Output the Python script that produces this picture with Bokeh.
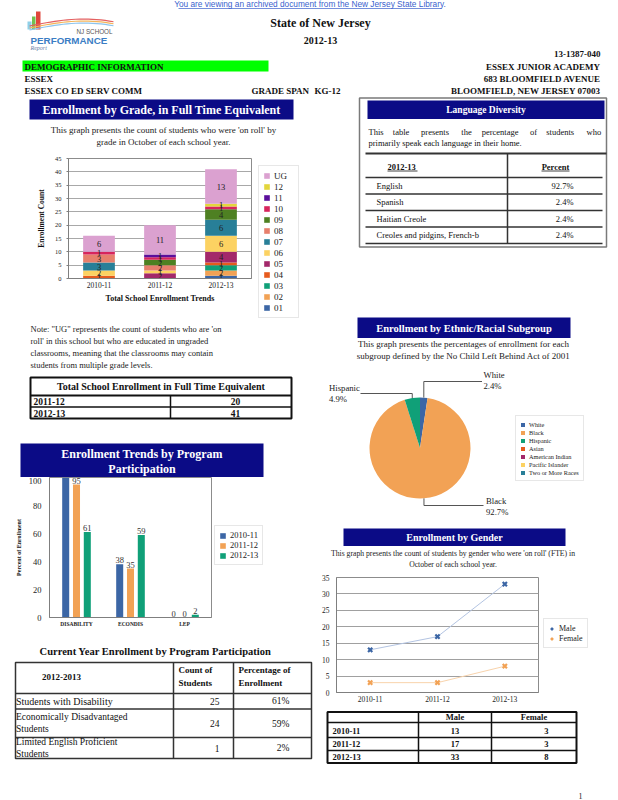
import math
from bokeh.plotting import figure
from bokeh.models import (Range1d, FactorRange, Legend, LegendItem, SingleIntervalTicker,
                          ColumnDataSource)
from bokeh.layouts import column, row
from bokeh.transform import dodge
from bokeh.embed import file_html
from bokeh.resources import INLINE
from bokeh.core.properties import value

SERIF = "Liberation Serif"
SANS = "Liberation Sans"
NAVY = "#0b0b86"

# ---------------- data ----------------
years = ["2010-11", "2011-12", "2012-13"]
grades = ["01", "02", "03", "04", "05", "06", "07", "08", "09", "10", "11", "12", "UG"]
g01 = [0, 0, 1]
g02 = [0, 0, 2]
g03 = [0, 0, 2]
g04 = [1, 0, 1]
g05 = [0, 2, 4]
g06 = [2, 1, 6]
g07 = [3, 0, 6]
g08 = [3, 2, 0]
g09 = [0, 2, 4]
g10 = [1, 1, 1]
g11 = [0, 1, 0]
g12 = [0, 0, 1]
gUG = [6, 11, 13]
grade_values = [g01, g02, g03, g04, g05, g06, g07, g08, g09, g10, g11, g12, gUG]
grade_colors = ["#3c66a5", "#f2a255", "#10a078", "#e65b1e", "#a3286a", "#fcd262", "#287f98",
                "#e77f6c", "#4e8022", "#d7255d", "#5b0f9c", "#e3d63c", "#dba1d0"]

total_years = ["2011-12", "2012-13"]
total_fte = [20, 41]

languages = ["English", "Spanish", "Haitian Creole", "Creoles and pidgins, French-b"]
language_pct = [92.7, 2.4, 2.4, 2.4]

ethnic_groups = ["White", "Black", "Hispanic", "Asian", "American Indian", "Pacific Islander",
                 "Two or More Races"]
ethnic_pct = [2.4, 92.7, 4.9, 0, 0, 0, 0]
ethnic_colors = ["#3c66a5", "#f2a255", "#10a078", "#e65b1e", "#a3286a", "#fcd262", "#287f98"]

programs = ["DISABILITY", "ECONDIS", "LEP"]
prog_2010 = [100, 38, 0]
prog_2011 = [95, 35, 0]
prog_2012 = [61, 59, 2]
prog_years = ["2010-11", "2011-12", "2012-13"]
prog_colors = ["#3c66a5", "#f2a255", "#10a078"]

current_labels = [["Students with Disability"],
                  ["Economically Disadvantaged", "Students"],
                  ["Limited English Proficient", "Students"]]
current_counts = [25, 24, 1]
current_pct = [61, 59, 2]

genders = ["Male", "Female"]
male = [13, 17, 33]
female = [3, 3, 8]
gender_colors = ["#3c66a5", "#f2a255"]
gender_line_colors = ["#b3c4e2", "#f8d3ac"]


# ---------------- helpers ----------------
class Canvas:
    def __init__(self, x0, y0, w, h):
        self.x0, self.y0, self.w, self.h = x0, y0, w, h
        p = figure(width=w, height=h, x_range=Range1d(0, w), y_range=Range1d(0, h),
                   toolbar_location=None, output_backend="svg",
                   x_axis_location=None, y_axis_location=None, min_border=0)
        p.grid.visible = False
        p.outline_line_color = None
        self.p = p

    def X(self, x):
        return x - self.x0

    def Y(self, y):
        return self.h - (y - self.y0)

    def text(self, x, y, s, size, color="#111111", bold=False, align="left", font=SERIF,
             italic=False):
        style = "normal"
        if bold and italic:
            style = "bold italic"
        elif bold:
            style = "bold"
        elif italic:
            style = "italic"
        self.p.text(x=[self.X(x)], y=[self.Y(y)], text=[s], text_font=value(font),
                    text_font_size=f"{size}px", text_font_style=style, text_color=color,
                    text_align=align, text_baseline="middle")

    def box(self, x0, y0, x1, y1, fill=None, line=None, lw=1):
        self.p.quad(left=[self.X(x0)], right=[self.X(x1)], top=[self.Y(y0)],
                    bottom=[self.Y(y1)], fill_color=fill, line_color=line, line_width=lw)

    def seg(self, x0, y0, x1, y1, color="#222222", lw=1):
        self.p.segment(x0=[self.X(x0)], y0=[self.Y(y0)], x1=[self.X(x1)], y1=[self.Y(y1)],
                       line_color=color, line_width=lw)

    def poly(self, pts, color, lw=1):
        self.p.line(x=[self.X(a) for a, b in pts], y=[self.Y(b) for a, b in pts],
                    line_color=color, line_width=lw)

    def legend_at(self, items, left, bottom):
        """place a legend with its bottom-left corner at page coords (left, bottom)"""
        lg = Legend(items=items, location=(self.X(left), self.Y(bottom)))
        self.p.add_layout(lg)
        return lg


def chart(w, h, xr, yr, l, r, t, b):
    p = figure(width=w, height=h, x_range=xr, y_range=yr, toolbar_location=None,
               output_backend="svg", min_border_left=l, min_border_right=r,
               min_border_top=t, min_border_bottom=b)
    return p


def style_axes(p, tick_size, label_size):
    for ax in p.axis:
        ax.major_label_text_font = SERIF
        ax.major_label_text_font_size = f"{tick_size}px"
        ax.major_label_text_color = "#222222"
        ax.axis_label_text_font = SERIF
        ax.axis_label_text_font_style = "bold"
        ax.axis_label_text_font_size = f"{label_size}px"
        ax.axis_label_text_color = "#111111"
        ax.axis_line_color = "#7f7f7f"
        ax.major_tick_line_color = "#7f7f7f"
        ax.minor_tick_line_color = None
        ax.major_tick_in = 0


def style_legend(lg, size, glyph, item_h, padding):
    lg.label_text_font = SERIF
    lg.label_text_font_size = f"{size}px"
    lg.label_text_color = "#222222"
    lg.glyph_width = glyph
    lg.glyph_height = glyph
    lg.label_height = item_h
    lg.spacing = 0
    lg.padding = padding
    lg.margin = 0
    lg.label_standoff = 4
    lg.border_line_color = "#cfcfcf"
    lg.background_fill_color = "white"
    lg.background_fill_alpha = 1


def justify(c, words, x0, x1, y, size):
    cw = 0.47 * size
    widths = [len(w) * cw for w in words]
    gap = (x1 - x0 - sum(widths)) / (len(words) - 1)
    x = x0
    for w, wd in zip(words, widths):
        c.text(x, y, w, size)
        x += wd + gap


def box1(fig):
    return column(fig)


# ---------------- header ----------------
H = Canvas(0, 0, 618, 96)
H.text(309.5, 3.5, "You are viewing an archived document from the New Jersey State Library.",
       8.3, color="#3a5fcd", align="center", font=SANS)
H.seg(178, 8, 441, 8, color="#3a5fcd", lw=0.7)
# logo
H.box(27, 21, 31, 29, fill="#8fd0e8")
H.box(31.5, 16, 35, 29, fill="#72c050")
H.box(35.5, 11, 40, 29, fill="#e0463c")
for k, col in enumerate(["#8cc4ee", "#f3b45a", "#e46060"]):
    pts = []
    for i in range(21):
        t = i / 20
        pts.append((29 + 84 * t, 29.5 - 2 * k - 9 * math.sin(t * 2.2) + 3 * t))
    H.poly(pts, col, lw=1.2)
H.text(112, 31, "NJ SCHOOL", 6.3, color="#555555", align="right", font=SANS)
H.text(30, 40, "PERFORMANCE", 9.8, color="#3b7dc4", bold=True, font=SANS)
H.text(30, 47.5, "Report", 6, color="#6b7fa8", italic=True)
H.text(320, 22, "State of New Jersey", 12, bold=True, align="center")
H.text(320, 40, "2012-13", 10, bold=True, align="center")
H.text(600, 53, "13-1387-040", 9, bold=True, align="right")
H.box(22, 60, 268, 71, fill="#00ff00")
H.text(24, 66, "DEMOGRAPHIC INFORMATION", 9, bold=True)
H.text(600, 66, "ESSEX JUNIOR ACADEMY", 9, bold=True, align="right")
H.text(24, 78, "ESSEX", 9, bold=True)
H.text(600, 78, "683 BLOOMFIELD AVENUE", 9, bold=True, align="right")
H.text(24, 90, "ESSEX CO ED SERV COMM", 9, bold=True)
H.text(251, 90, "GRADE SPAN", 9, bold=True)
H.text(314, 90, "KG-12", 9, bold=True)
H.text(600, 90, "BLOOMFIELD, NEW JERSEY 07003", 9, bold=True, align="right")

LW, RW = 318, 300

# ---------------- left column ----------------
L1 = Canvas(0, 96, LW, 54)
L1.box(29, 99, 293, 119, fill=NAVY)
L1.text(161, 109.5, "Enrollment by Grade, in Full Time Equivalent", 12, color="white",
        bold=True, align="center")
L1.text(163, 129, "This graph presents the count of students who were 'on roll' by", 9,
        align="center", color="#222222")
L1.text(163, 141, "grade in October of each school year.", 9, align="center", color="#222222")

# stacked chart (frame x 68..251, y 158..278)
p2 = chart(252, 170, FactorRange(factors=years), Range1d(0, 45), 68, 1, 8, 42)
src2 = ColumnDataSource(dict(year=years, **{"g" + g: v for g, v in zip(grades, grade_values)}))
rs = p2.vbar_stack(["g" + g for g in grades], x="year", width=0.52, color=grade_colors,
                   line_color=None, source=src2)
lx, ly, lt = [], [], []
for j, yr in enumerate(years):
    cum = 0
    for v in grade_values:
        if v[j] > 0:
            lx.append(yr)
            ly.append(cum + v[j] / 2)
            lt.append(str(v[j]))
        cum += v[j]
p2.text(x=lx, y=ly, text=lt, text_font=value(SERIF), text_font_size="8.5px",
        text_align="center", text_baseline="middle", text_color="#222222")
p2.xgrid.visible = False
p2.ygrid.grid_line_color = "#a8a8a8"
p2.outline_line_color = "#8c8c8c"
p2.yaxis.ticker = SingleIntervalTicker(interval=5)
style_axes(p2, 6.5, 7.5)
p2.yaxis.major_tick_out = 2
p2.xaxis.major_tick_out = 0
p2.xaxis.major_label_text_font_size = "7.5px"
p2.yaxis.axis_label = "Enrollment Count"
p2.xaxis.axis_label = "Total School Enrollment Trends"
p2.xaxis.axis_label_text_font_size = "8px"
p2.yaxis.axis_label_standoff = 6
p2.xaxis.axis_label_standoff = 3
p2.yaxis.major_label_standoff = 3
p2.xaxis.major_label_standoff = 3

# legend swatches: one off-canvas swatch per series so the legend can draw its key
LG2 = Canvas(252, 150, 66, 170)
items2 = []
for g, col in zip(grades, grade_colors):
    r = LG2.p.quad(left=[-30], right=[-20], top=[-20], bottom=[-30], fill_color=col,
                   line_color=None)
    items2.append(LegendItem(label=g, renderers=[r]))
lg2 = LG2.legend_at(items2[::-1], 258, 318)
style_legend(lg2, 9, 7, 11, 4)

L3 = Canvas(0, 320, LW, 120)
note = ["Note: \"UG\" represents the count of students who are 'on",
        "roll' in this school but who are educated in ungraded",
        "classrooms, meaning that the classrooms may contain",
        "students from multiple grade levels."]
for i, s in enumerate(note):
    L3.text(30, 328 + 12.3 * i, s, 8.5, color="#222222")
L3.box(30, 377, 291, 418, line="#111111", lw=2)
L3.seg(30, 395, 291, 395, color="#111111", lw=2)
L3.seg(30, 406.5, 291, 406.5, color="#111111", lw=1.5)
L3.seg(170, 395, 170, 418, color="#111111", lw=1.5)
L3.text(160.5, 386, "Total School Enrollment in Full Time Equivalent", 10, bold=True,
        align="center")
for i, (yl, v) in enumerate(zip(total_years, total_fte)):
    yy = 401 + 11.5 * i
    L3.text(33, yy, yl, 9.5, bold=True)
    L3.text(235, yy, str(v), 9.5, bold=True, align="center")

L4a = Canvas(0, 440, LW, 37)
L4a.box(20, 443, 263, 477, fill=NAVY)
L4a.text(141.5, 453.5, "Enrollment Trends by Program", 12, color="white", bold=True,
         align="center")
L4a.text(141.5, 468, "Participation", 12, color="white", bold=True, align="center")

# program chart (frame x 49..211, y 477..617)
p4 = chart(212, 163, FactorRange(factors=programs), Range1d(0, 100), 49, 1, 0, 23)
src4 = ColumnDataSource(dict(program=programs, y0=prog_2010, y1=prog_2011, y2=prog_2012,
                             t0=[str(v) for v in prog_2010], t1=[str(v) for v in prog_2011],
                             t2=[str(v) for v in prog_2012]))
for k, off in enumerate([-0.2, 0.0, 0.2]):
    p4.vbar(x=dodge("program", off, range=p4.x_range), top=f"y{k}", width=0.13,
            color=prog_colors[k], line_color=None, source=src4)
    p4.text(x=dodge("program", off, range=p4.x_range), y=f"y{k}", text=f"t{k}", source=src4,
            text_font=value(SERIF), text_font_size="8.5px", text_align="center",
            text_baseline="bottom", y_offset=-1, text_color="#333333")
p4.grid.visible = False
p4.outline_line_color = "#8c8c8c"
p4.yaxis.ticker = SingleIntervalTicker(interval=20)
style_axes(p4, 8.5, 6)
p4.yaxis.major_tick_out = 0
p4.xaxis.major_tick_out = 0
p4.xaxis.major_label_text_font_size = "5.5px"
p4.xaxis.major_label_text_font_style = "bold"
p4.yaxis.axis_label = "Percent of Enrollment"
p4.yaxis.major_label_standoff = 4
p4.yaxis.axis_label_standoff = 4
p4.xaxis.major_label_standoff = 3

LG4 = Canvas(212, 477, 106, 163)
items4 = []
for y, col in zip(prog_years, prog_colors):
    r = LG4.p.quad(left=[-30], right=[-20], top=[-20], bottom=[-30], fill_color=col,
                   line_color=None)
    items4.append(LegendItem(label=y, renderers=[r]))
lg4 = LG4.legend_at(items4, 214, 565)
style_legend(lg4, 8.5, 7, 10, 4)

L5 = Canvas(0, 640, LW, 159)
L5.text(155, 651, "Current Year Enrollment by Program Participation", 10.5, bold=True,
        align="center")
TC = "#333333"
L5.box(15, 662, 311, 758, line=TC, lw=1.5)
for yy in [693, 708.5, 737]:
    L5.seg(15, yy, 311, yy, color=TC, lw=1.5)
L5.seg(173, 662, 173, 758, color=TC, lw=1.5)
L5.seg(233, 662, 233, 758, color=TC, lw=1.5)
L5.text(61, 676.5, "2012-2013", 9, bold=True, align="center")
L5.text(178, 669, "Count of", 9, bold=True)
L5.text(178, 682, "Students", 9, bold=True)
L5.text(238, 669, "Percentage of", 9, bold=True)
L5.text(238, 682, "Enrollment", 9, bold=True)
row_mid = [700.5, 723, 747.5]
row_first = [700.5, 716.5, 741.5]
for i, lines in enumerate(current_labels):
    for k, s in enumerate(lines):
        L5.text(15.5, row_first[i] + 12.3 * k, s, 10 if len(lines) == 1 else 9.5,
                color="#111111")
    L5.text(219, row_mid[i], str(current_counts[i]), 9.5, align="right")
    L5.text(289, row_mid[i], f"{current_pct[i]}%", 9.5, align="right")

# ---------------- right column ----------------
R1 = Canvas(LW, 96, RW, 216)
R1.box(359, 97.5, 606, 246.5, line="#7a7a7a", lw=1.5)
R1.box(367, 100, 604, 118.5, fill=NAVY)
R1.text(485.5, 109.5, "Language Diversity", 9.5, color="white", bold=True, align="center")
justify(R1, "This table presents the percentage of students who".split(), 368, 598, 131.5, 8.5)
R1.text(368, 142.5, "primarily speak each language in their home.", 8.5)
R1.seg(365, 153, 606, 153, color=TC, lw=2)
R1.text(387, 166, "2012-13", 8.5, bold=True)
R1.seg(387, 170.5, 417, 170.5, color="#111111", lw=0.8)
R1.text(555, 166, "Percent", 8.5, bold=True, align="center")
R1.seg(541, 170.5, 569, 170.5, color="#111111", lw=0.8)
R1.seg(507, 153, 507, 243, color=TC, lw=1.5)
for yy in [177, 193.5, 210, 226.5, 243]:
    R1.seg(365, yy, 602, yy, color=TC, lw=1.5)
for i, (lang, pc) in enumerate(zip(languages, language_pct)):
    yy = 185 + 16.5 * i
    R1.text(376, yy, lang, 8.5)
    R1.text(573, yy, f"{pc}%", 8.5, align="right")

R2 = Canvas(LW, 312, RW, 210)
R2.box(357, 317, 570, 337.5, fill=NAVY)
R2.text(463.5, 327.5, "Enrollment by Ethnic/Racial Subgroup", 10.5, color="white", bold=True,
        align="center")
R2.text(463, 343, "This graph presents the percentages of enrollment for each", 9,
        align="center", color="#222222")
R2.text(463, 355.5, "subgroup defined by the No Child Left Behind Act of 2001", 9,
        align="center", color="#222222")
CX, CY, RAD = 419.5, 447.5, 50.5
tot = sum(ethnic_pct)
starts, ends, mids, radii = [], [], [], []
cum = 0.0
for v in ethnic_pct:
    f = v / tot
    starts.append(math.pi / 2 - 2 * math.pi * cum)
    mids.append(2 * math.pi * (cum + f / 2))
    cum += f
    ends.append(math.pi / 2 - 2 * math.pi * cum)
    radii.append(RAD if v > 0 else 0)
src_pie = ColumnDataSource(dict(x=[R2.X(CX)] * len(ethnic_pct), y=[R2.Y(CY)] * len(ethnic_pct),
                                start=starts, end=ends, r=radii, color=ethnic_colors,
                                group=ethnic_groups))
wr = R2.p.wedge(x="x", y="y", radius="r", start_angle="start", end_angle="end",
                direction="clock", fill_color="color", line_color=None, source=src_pie)
label_layout = {
    "White": dict(elbow=381, end=481.5, tx=483, ty=374),
    "Hispanic": dict(elbow=393, end=360, tx=328.5, ty=387),
    "Black": dict(elbow=505, end=483, tx=485.5, ty=500),
}
for i, g in enumerate(ethnic_groups):
    if g not in label_layout:
        continue
    L = label_layout[g]
    ax = CX + RAD * math.sin(mids[i])
    ay = CY - RAD * math.cos(mids[i])
    R2.poly([(ax, ay), (ax, L["elbow"]), (L["end"], L["elbow"])], "#555555", lw=1)
    R2.text(L["tx"], L["ty"], g, 8.7, color="#222222")
    R2.text(L["tx"], L["ty"] + 11.5, f"{ethnic_pct[i]}%", 8.7, color="#222222")
lgp = R2.legend_at([LegendItem(label=g, renderers=[wr], index=i)
                    for i, g in enumerate(ethnic_groups)], 515, 481)
style_legend(lgp, 6.3, 5, 8, 4)

R3 = Canvas(LW, 522, RW, 50)
R3.box(343, 528, 565, 545.5, fill=NAVY)
R3.text(454, 537, "Enrollment by Gender", 10, color="white", bold=True, align="center")
R3.text(452.5, 553, "This graph presents the count of students by gender who were 'on roll' (FTE) in",
        7.7, align="center", color="#222222")
R3.text(452.5, 563.5, "October of each school year.", 7.7, align="center", color="#222222")

# gender chart (frame x 336..538, y 577..692)
p6 = chart(221, 133, FactorRange(factors=years), Range1d(0, 35), 18, 1, 5, 13)
src6 = ColumnDataSource(dict(year=years, Male=male, Female=female))
for g, mc, lc in zip(genders, gender_colors, gender_line_colors):
    p6.line(x="year", y=g, source=src6, line_color=lc, line_width=1)
    p6.scatter(x="year", y=g, source=src6, marker="x", size=6, line_width=2.2, line_color=mc)
p6.xgrid.visible = False
p6.ygrid.grid_line_color = "#a0a0a0"
p6.outline_line_color = "#8c8c8c"
p6.yaxis.ticker = SingleIntervalTicker(interval=5)
style_axes(p6, 7.5, 7)
p6.yaxis.major_tick_out = 0
p6.xaxis.major_tick_out = 0
p6.xaxis.major_label_text_font_size = "7.5px"
p6.yaxis.major_label_standoff = 3
p6.xaxis.major_label_standoff = 3

LG6 = Canvas(539, 572, 79, 133)
items6 = []
for g, mc in zip(genders, gender_colors):
    r = LG6.p.scatter(x=[-30], y=[-30], marker="x", size=6, line_width=2.2, line_color=mc)
    items6.append(LegendItem(label=g, renderers=[r]))
lg6 = LG6.legend_at(items6, 543, 648)
style_legend(lg6, 8, 7, 10, 4)

R5 = Canvas(LW, 705, RW, 94)
R5.box(327, 711.5, 576, 762.5, line="#111111", lw=2)
for yy in [722, 737, 750]:
    R5.seg(327, yy, 576, yy, color="#111111", lw=1.5)
R5.seg(418, 711.5, 418, 762.5, color="#111111", lw=1.5)
R5.seg(491, 711.5, 491, 762.5, color="#111111", lw=1.5)
R5.text(454.5, 716.5, "Male", 8.5, bold=True, align="center")
R5.text(533.5, 716.5, "Female", 8.5, bold=True, align="center")
for i, yl in enumerate(years):
    yy = 730 + 13 * i
    R5.text(332, yy, yl, 8.5, bold=True)
    R5.text(454.5, yy, str(male[i]), 8.5, bold=True, align="center")
    R5.text(548, yy, str(female[i]), 8.5, bold=True, align="right")
R5.text(578, 795, "1", 8, color="#222222")

left = column(box1(L1.p), row(box1(p2), box1(LG2.p)), box1(L3.p), box1(L4a.p),
              row(box1(p4), box1(LG4.p)), box1(L5.p))
right = column(box1(R1.p), box1(R2.p), box1(R3.p), row(box1(p6), box1(LG6.p)), box1(R5.p))
page = column(box1(H.p), row(left, right))

open("out.html", "w").write(file_html(page, INLINE))
